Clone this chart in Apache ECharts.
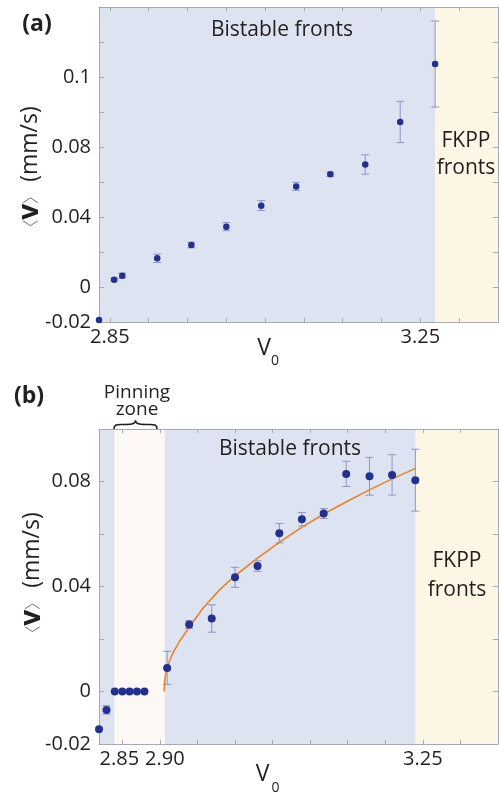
<!DOCTYPE html>
<html>
<head>
<meta charset="utf-8">
<script src="https://cdn.jsdelivr.net/npm/echarts@6/dist/echarts.min.js"></script>
<style>
  html, body { margin: 0; padding: 0; background: #fff; }
  #chart { width: 499px; height: 796px; }
</style>
</head>
<body>
<div id="chart"></div>
<script>
// ---- Panel (a): mean front speed against V0 ----
const aV0    = [2.836, 2.8555, 2.866, 2.911, 2.955, 3.000, 3.045, 3.090, 3.134, 3.179, 3.224, 3.269];
const aSpeed = [-0.0189, 0.0042, 0.0065, 0.0164, 0.0240, 0.0345, 0.0465, 0.0575, 0.0644, 0.0700, 0.0943, 0.1274];
const aErr   = [0, 0.0008, 0.0014, 0.0024, 0.0016, 0.0023, 0.0028, 0.0023, 0.0012, 0.0055, 0.0118, 0.0246];
const aBistable = [2.836, 3.269];
const aFkpp     = [3.269, 3.35];
const aXTicks  = [2.85, 2.90, 2.95, 3.00, 3.05, 3.10, 3.15, 3.20, 3.25, 3.30];
const aXLabels = [2.85, 3.25];
const aYTicks  = [-0.02, 0, 0.02, 0.04, 0.06, 0.08, 0.10, 0.12, 0.14, 0.16];
const aYTickValues = [-0.02, 0, 0.04, 0.08, 0.12];
const aYTickLabels = ['-0.02', '0', '0.04', '0.08', '0.1'];

// ---- Panel (b): mean front speed against V0, with pinning zone and fit ----
const bV0    = [2.819, 2.829, 2.840, 2.850, 2.8597, 2.8695, 2.8795, 2.9097, 2.939, 2.969, 3.000, 3.030, 3.059, 3.089, 3.118, 3.148, 3.179, 3.209, 3.240];
const bSpeed = [-0.0144, -0.0070, 0, 0, 0, 0, 0, 0.0090, 0.0255, 0.0278, 0.0435, 0.0478, 0.0603, 0.0656, 0.0678, 0.0829, 0.0820, 0.0825, 0.0805];
const bErr   = [0, 0.0016, 0, 0, 0, 0, 0, 0.0063, 0.0015, 0.0052, 0.0038, 0.0020, 0.0037, 0.0026, 0.0019, 0.0048, 0.0072, 0.0077, 0.0118];
const bFitV0    = [2.9057, 2.9060, 2.9067, 2.9078, 2.9095, 2.9130, 2.9180, 2.9260, 2.9390, 2.9576, 2.9798, 2.9997, 3.0286, 3.0590, 3.0892, 3.1194, 3.1496, 3.1802, 3.2098, 3.2403];
const bFitSpeed = [0, 0.0025, 0.0046, 0.0066, 0.0088, 0.0118, 0.0150, 0.0190, 0.0245, 0.0318, 0.0388, 0.0440, 0.0505, 0.0568, 0.0626, 0.0678, 0.0725, 0.0770, 0.0811, 0.0850];
const bBistableLow  = [2.819, 2.8398];
const bPinning      = [2.8398, 2.9066];
const bBistable     = [2.9066, 3.2403];
const bFkpp         = [3.2403, 3.35];
const bXTicks  = [2.85, 2.90, 2.95, 3.00, 3.05, 3.10, 3.15, 3.20, 3.25, 3.30];
const bXLabels = [2.85, 2.90, 3.25];
const bYTicks  = [-0.02, 0, 0.02, 0.04, 0.06, 0.08, 0.10];
const bYLabels = [-0.02, 0, 0.04, 0.08];

const FONT = '"Open Sans", "Noto Sans", sans-serif';
const INK = '#231f20';
const AXIS = '#a6a9b6';
const BLUE_BG = '#dde3f1';
const CREAM_BG = '#fdf6e4';
const PIN_BG = '#fdf8f3';
const DOT = '#23308c';
const BAR = '#8e95c2';
const FIT = '#e8832b';

const chart = echarts.init(document.getElementById('chart'), null, { renderer: 'canvas' });

function zip3(x, y, e) { return x.map((v, i) => [v, y[i], e[i]]); }
function zip2(x, y) { return x.map((v, i) => [v, y[i]]); }

function errorBars(params, api) {
  const x = api.value(0), y = api.value(1), e = api.value(2);
  if (!e) return null;
  const top = api.coord([x, y + e]);
  const bot = api.coord([x, y - e]);
  const hw = 4;
  const style = { stroke: BAR, lineWidth: 1 };
  return {
    type: 'group',
    children: [
      { type: 'line', shape: { x1: top[0], y1: top[1], x2: bot[0], y2: bot[1] }, style },
      { type: 'line', shape: { x1: top[0] - hw, y1: top[1], x2: top[0] + hw, y2: top[1] }, style },
      { type: 'line', shape: { x1: bot[0] - hw, y1: bot[1], x2: bot[0] + hw, y2: bot[1] }, style }
    ]
  };
}

function band(range, color) {
  return [{ xAxis: range[0], itemStyle: { color } }, { xAxis: range[1] }];
}

const lineStyle = { color: AXIS, width: 1 };
function xAxisFor(grid, pos, min, max, ticks, labels, fmt) {
  return {
    type: 'value', gridIndex: grid, position: pos, min, max, z: 3,
    axisLine: { show: true, onZero: false, lineStyle },
    axisTick: { show: true, inside: true, length: 4, customValues: ticks, lineStyle },
    axisLabel: labels ? {
      show: true, customValues: labels, formatter: fmt, fontFamily: FONT, fontSize: 20,
      color: INK, margin: 5,
      rich: {
        l: { fontFamily: FONT, fontSize: 20, color: INK, padding: [0, 6, 0, 0] },
        r: { fontFamily: FONT, fontSize: 20, color: INK, padding: [0, 0, 0, 10] },
        c: { fontFamily: FONT, fontSize: 20, color: INK }
      }
    } : { show: false },
    splitLine: { show: false }
  };
}
function yAxisFor(grid, pos, min, max, ticks, labels, fmt) {
  return {
    type: 'value', gridIndex: grid, position: pos, min, max, z: 3,
    axisLine: { show: true, onZero: false, lineStyle },
    axisTick: { show: true, inside: true, length: 5, customValues: ticks, lineStyle },
    axisLabel: labels ? {
      show: true, customValues: labels, formatter: fmt, fontFamily: FONT, fontSize: 20,
      color: INK, margin: 8
    } : { show: false },
    splitLine: { show: false }
  };
}

const aYFormat = v => {
  const i = aYTickValues.findIndex(t => Math.abs(t - v) < 1e-9);
  return i < 0 ? '' : aYTickLabels[i];
};
const bYFormat = v => (Math.abs(v) < 1e-9 ? '0' : v.toFixed(2));
const aXFormat = v => '{c|' + v.toFixed(2) + '}';
const bXFormat = v => {
  if (Math.abs(v - 2.85) < 1e-9) return '{l|2.85}';
  if (Math.abs(v - 2.90) < 1e-9) return '{r|2.90}';
  return '{c|' + v.toFixed(2) + '}';
};

const textStyle = (size, weight) => ({ fontFamily: FONT, fontSize: size, fontWeight: weight || 'normal', fill: INK });
function label(x, y, text, size, weight) {
  return { type: 'text', x, y, z: 100, style: Object.assign({ text, align: 'center', verticalAlign: 'middle' }, textStyle(size, weight)) };
}
function yTitle(x, y) {
  return {
    type: 'text', x, y, z: 100, rotation: Math.PI / 2,
    style: {
      text: '{br|〈}{v|v}{br|〉}{t| (mm/s)}',
      align: 'center', verticalAlign: 'middle',
      rich: {
        br: { fontFamily: '"Noto Sans CJK SC", "DejaVu Sans", sans-serif', fontSize: 16, fontWeight: 200, fill: '#555' },
        v: { fontFamily: FONT, fontSize: 28, fontWeight: 'bold', fill: INK },
        t: { fontFamily: FONT, fontSize: 23, fill: INK }
      }
    }
  };
}
function bez(x1, y1, cx1, cy1, cx2, cy2, x2, y2) {
  return {
    type: 'bezierCurve', z: 100,
    shape: { x1, y1, cpx1: cx1, cpy1: cy1, cpx2: cx2, cpy2: cy2, x2, y2 },
    style: { stroke: '#1e1e1e', lineWidth: 1.6, fill: null }
  };
}

const option = {
  animation: false,
  backgroundColor: '#ffffff',
  grid: [
    { left: 99, top: 7, right: 1, bottom: 474 },
    { left: 99, top: 429, right: 1, bottom: 52 }
  ],
  xAxis: [
    xAxisFor(0, 'bottom', 2.836, 3.35, aXTicks, aXLabels, aXFormat),
    xAxisFor(0, 'top', 2.836, 3.35, aXTicks, null),
    xAxisFor(1, 'bottom', 2.819, 3.35, bXTicks, bXLabels, bXFormat),
    xAxisFor(1, 'top', 2.819, 3.35, bXTicks, null)
  ],
  yAxis: [
    yAxisFor(0, 'left', -0.02, 0.16, aYTicks, aYTickValues, aYFormat),
    yAxisFor(0, 'right', -0.02, 0.16, aYTicks, null),
    yAxisFor(1, 'left', -0.02, 0.10, bYTicks, bYLabels, bYFormat),
    yAxisFor(1, 'right', -0.02, 0.10, bYTicks, null)
  ],
  series: [
    {
      name: 'regions-a', type: 'scatter', xAxisIndex: 0, yAxisIndex: 0, data: [], z: 1, silent: true,
      markArea: { silent: true, data: [band(aBistable, BLUE_BG), band(aFkpp, CREAM_BG)] }
    },
    {
      name: 'regions-b', type: 'scatter', xAxisIndex: 2, yAxisIndex: 2, data: [], z: 1, silent: true,
      markArea: { silent: true, data: [band(bBistableLow, BLUE_BG), band(bPinning, PIN_BG), band(bBistable, BLUE_BG), band(bFkpp, CREAM_BG)] }
    },
    {
      name: 'err-a', type: 'custom', xAxisIndex: 0, yAxisIndex: 0, z: 4,
      renderItem: errorBars, encode: { x: 0, y: 1 }, data: zip3(aV0, aSpeed, aErr)
    },
    {
      name: 'err-b', type: 'custom', xAxisIndex: 2, yAxisIndex: 2, z: 4,
      renderItem: errorBars, encode: { x: 0, y: 1 }, data: zip3(bV0, bSpeed, bErr)
    },
    {
      name: 'fit-b', type: 'line', xAxisIndex: 2, yAxisIndex: 2, z: 4,
      data: zip2(bFitV0, bFitSpeed), smooth: false, showSymbol: false,
      lineStyle: { color: FIT, width: 1.6, join: 'round' }
    },
    {
      name: 'speed-a', type: 'scatter', xAxisIndex: 0, yAxisIndex: 0, z: 5, clip: false,
      symbolSize: 6.5, itemStyle: { color: DOT, opacity: 1 }, data: zip2(aV0, aSpeed)
    },
    {
      name: 'speed-b', type: 'scatter', xAxisIndex: 2, yAxisIndex: 2, z: 5, clip: false,
      symbolSize: 8, itemStyle: { color: DOT, opacity: 1 }, data: zip2(bV0, bSpeed)
    }
  ],
  graphic: [
    label(37, 24, '(a)', 23, 'bold'),
    label(282, 30, 'Bistable fronts', 21),
    label(466, 141, 'FKPP', 21),
    label(466, 168, 'fronts', 21),
    yTitle(30, 171),
    label(264, 348, 'V', 23),
    label(275, 361, '0', 14),

    label(29, 396, '(b)', 23, 'bold'),
    label(137, 393, 'Pinning', 19),
    label(137, 410, 'zone', 19),
    bez(114, 429, 114, 425, 116, 424.5, 121, 424.5),
    bez(121, 424.5, 130, 424.5, 135.5, 424.5, 135.5, 420.5),
    bez(135.5, 420.5, 135.5, 424.5, 141, 424.5, 150, 424.5),
    bez(150, 424.5, 155, 424.5, 157, 425, 157, 429),
    label(290, 449, 'Bistable fronts', 21),
    label(457, 561, 'FKPP', 21),
    label(457, 590, 'fronts', 21),
    yTitle(32, 577),
    label(262.5, 774, 'V', 23),
    label(275.5, 788, '0', 14)
  ]
};

chart.setOption(option);
</script>
</body>
</html>
